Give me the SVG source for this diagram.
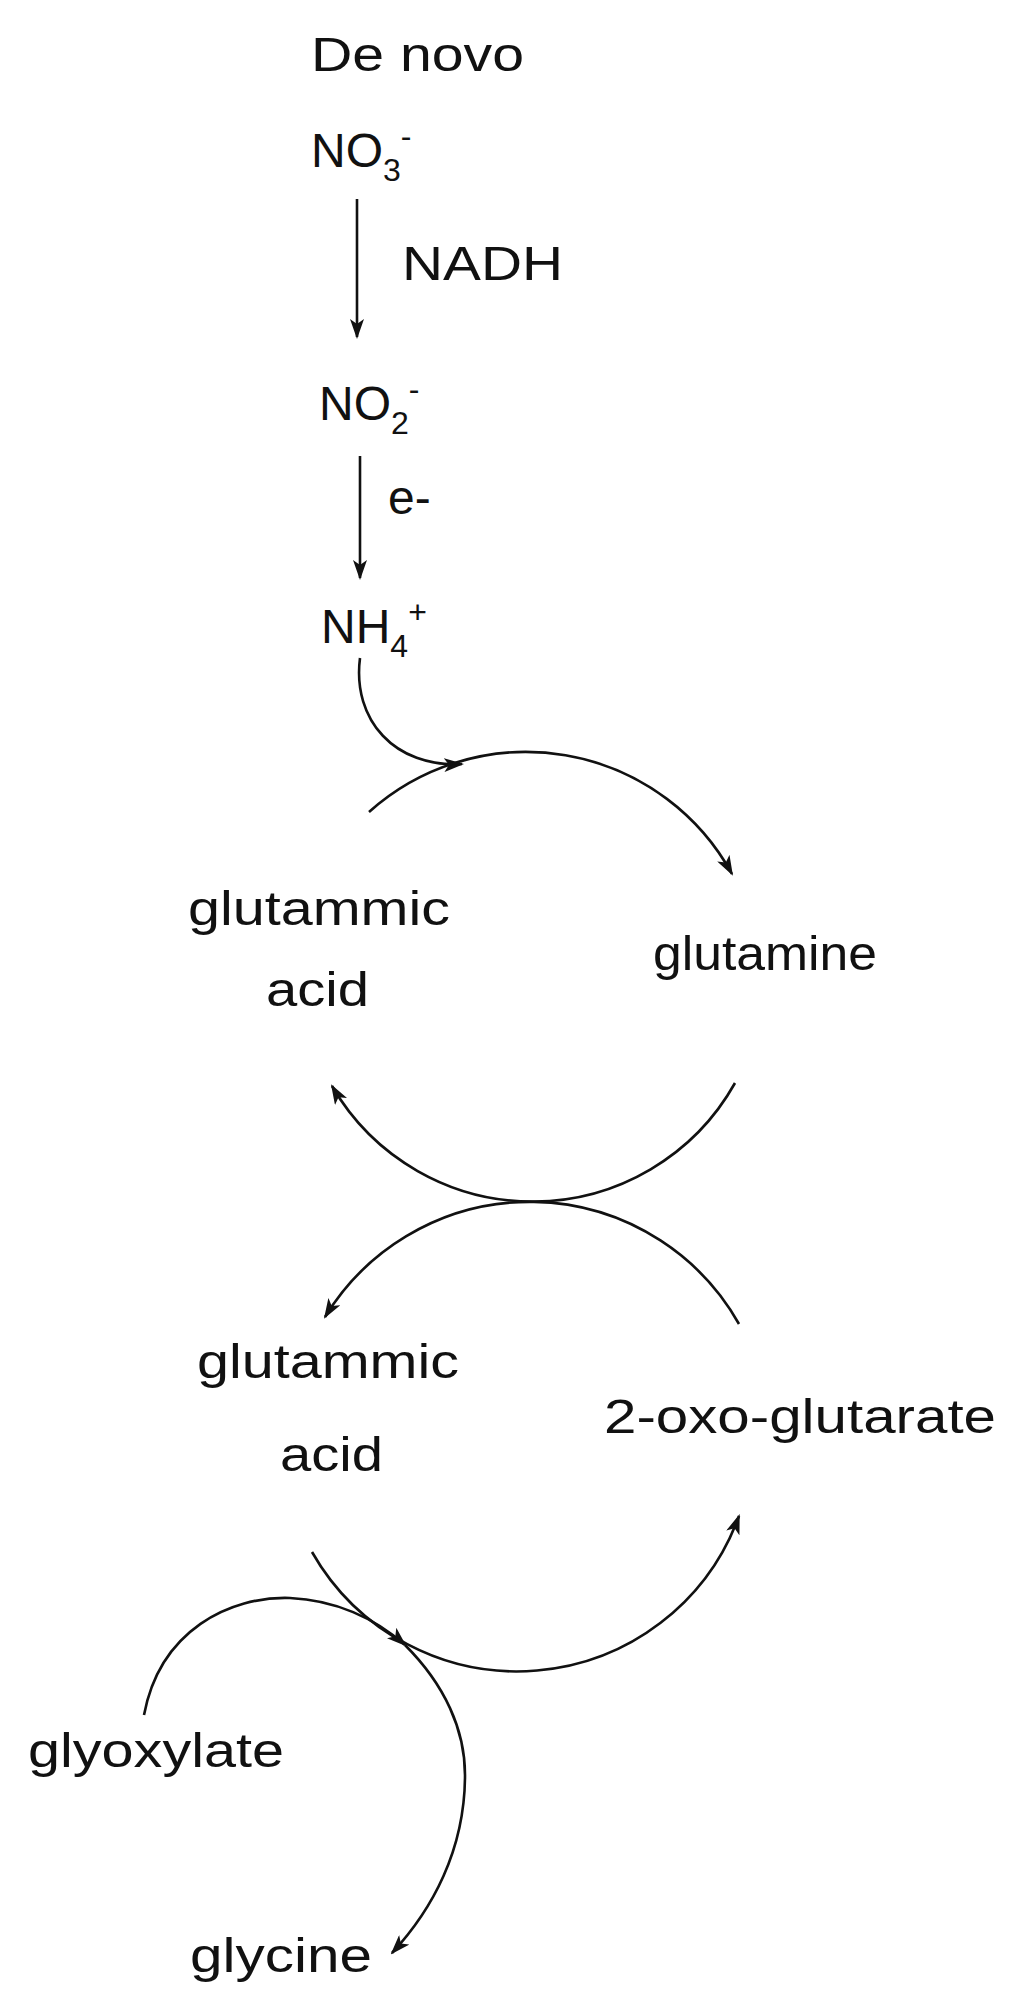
<svg xmlns="http://www.w3.org/2000/svg" width="1028" height="2008" viewBox="0 0 1028 2008">
<style>
text{font-family:"Liberation Sans",Arial,sans-serif;font-size:48px;fill:#111}
.c{fill:none;stroke:#111;stroke-width:2.6}
.s{font-size:32px}
</style>
<defs>
<marker id="a" viewBox="0 0 20 14" refX="18" refY="7" markerWidth="20" markerHeight="14" markerUnits="userSpaceOnUse" orient="auto"><path d="M0,0 L20,7 L0,14 L5,7 Z" fill="#111"/></marker>
</defs>
<rect width="1028" height="2008" fill="#fff"/>
<g id="denovo"><text x="311" y="71" textLength="213" lengthAdjust="spacingAndGlyphs">De novo</text></g>
<g id="no3"><text x="311" y="167">NO<tspan class="s" dy="14">3</tspan><tspan class="s" dy="-34">-</tspan></text></g>
<g id="nadh"><text x="402" y="280" textLength="161" lengthAdjust="spacingAndGlyphs">NADH</text></g>
<g id="no2"><text x="319" y="420">NO<tspan class="s" dy="14">2</tspan><tspan class="s" dy="-34">-</tspan></text></g>
<g id="e"><text x="388" y="514">e-</text></g>
<g id="nh4"><text x="321" y="643">NH<tspan class="s" dy="14">4</tspan><tspan class="s" dy="-34">+</tspan></text></g>
<g id="glu1"><text x="188" y="925" textLength="262" lengthAdjust="spacingAndGlyphs">glutammic</text><text x="266" y="1006" textLength="103" lengthAdjust="spacingAndGlyphs">acid</text></g>
<g id="glutamine"><text x="653" y="970" textLength="224" lengthAdjust="spacingAndGlyphs">glutamine</text></g>
<g id="glu2"><text x="197" y="1378" textLength="262" lengthAdjust="spacingAndGlyphs">glutammic</text><text x="280" y="1471" textLength="103" lengthAdjust="spacingAndGlyphs">acid</text></g>
<g id="oxo"><text x="604" y="1433" textLength="392" lengthAdjust="spacingAndGlyphs">2-oxo-glutarate</text></g>
<g id="glyoxylate"><text x="28" y="1767" textLength="256" lengthAdjust="spacingAndGlyphs">glyoxylate</text></g>
<g id="glycine"><text x="190" y="1972" textLength="182" lengthAdjust="spacingAndGlyphs">glycine</text></g>
<g id="connectors">
<path class="c" marker-end="url(#a)" d="M357,199 L357,337"/>
<path class="c" marker-end="url(#a)" d="M360,456 L360,578"/>
<path class="c" marker-end="url(#a)" d="M360,658 C352,720 395,768 462,764"/>
<path class="c" marker-end="url(#a)" d="M369,812 A235,235 0 0 1 732,874"/>
<path class="c" marker-end="url(#a)" d="M735,1083 A232,232 0 0 1 332,1086"/>
<path class="c" marker-end="url(#a)" d="M739,1324 A240,240 0 0 0 325,1317"/>
<path class="c" marker-end="url(#a)" d="M312,1552 A236,236 0 0 0 739,1516"/>
<path class="c" marker-end="url(#a)" d="M144,1715 C160,1630 230,1596 290,1598 C335,1600 375,1618 405,1645"/>
<path class="c" marker-end="url(#a)" d="M405,1645 C445,1685 465,1730 465,1775 C465,1850 432,1910 392,1953"/>
</g>
</svg>
